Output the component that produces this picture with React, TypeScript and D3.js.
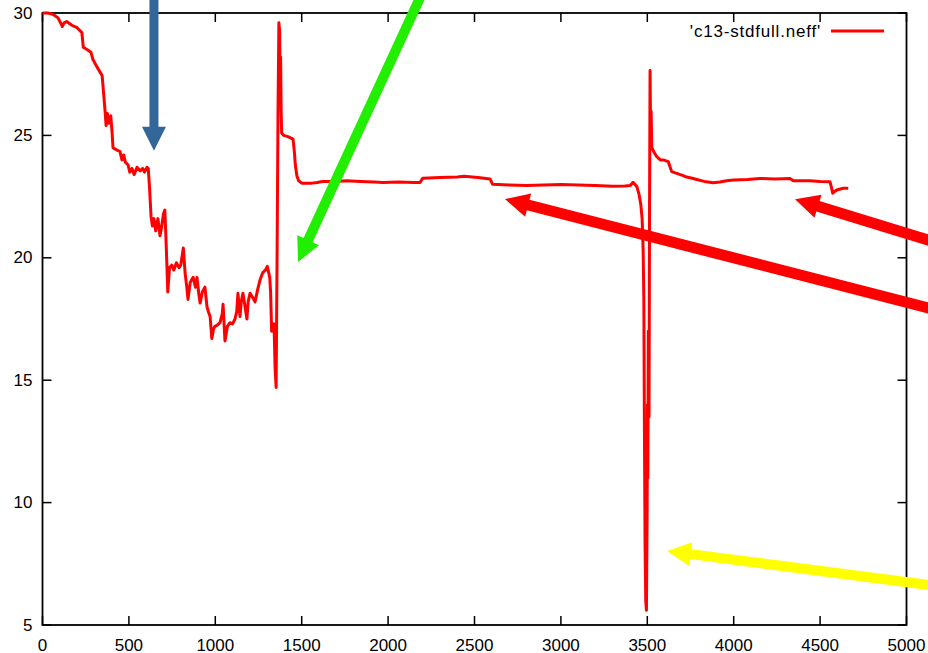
import React from "react";
import * as d3 from "d3";

const X_TICKS = [0, 500, 1000, 1500, 2000, 2500, 3000, 3500, 4000, 4500, 5000];
const Y_TICKS = [5, 10, 15, 20, 25, 30];
const SERIES_NAME = "'c13-stdfull.neff'";

const neffX = [
  0, 30, 60, 90, 115, 125, 140, 170, 200, 228, 236, 260, 280, 292, 315, 345, 355, 362, 368, 375,
  385, 395, 402, 408, 430, 448, 460, 470, 480, 495, 505, 518, 530, 547, 565, 580, 590, 605, 612, 620,
  628, 636, 645, 655, 668, 680, 690, 700, 708, 716, 725, 735, 748, 760, 775, 790, 800, 815, 825, 835,
  842, 855, 872, 885, 894, 905, 912, 925, 940, 952, 960, 970, 980, 990, 998, 1012, 1027, 1040, 1045, 1056,
  1070, 1085, 1100, 1114, 1124, 1131, 1143, 1150, 1160, 1170, 1183, 1190, 1201, 1215, 1230, 1245, 1259, 1275, 1290, 1301,
  1315, 1320, 1326, 1332, 1340, 1346, 1352, 1358, 1363, 1368, 1372, 1375, 1378, 1381, 1384, 1395, 1420, 1450, 1458, 1463,
  1472, 1482, 1500, 1560, 1590, 1620, 1700, 1760, 1840, 1920, 1970, 2060, 2150, 2185, 2200, 2300, 2400, 2440, 2520, 2590,
  2605, 2700, 2800, 2900, 3000, 3100, 3200, 3300, 3370, 3400, 3418, 3428, 3440, 3452, 3462, 3470, 3476, 3480, 3483, 3487,
  3491, 3495, 3499, 3501, 3503, 3506, 3510, 3513, 3516, 3519, 3522, 3526, 3540, 3555, 3575, 3593, 3621, 3630, 3641, 3670,
  3700, 3728, 3760, 3786, 3830, 3882, 3920, 3959, 4000, 4080, 4152, 4240, 4326, 4345, 4441, 4500, 4557, 4565, 4573, 4596,
  4634, 4663,
];
const neffY = [
  30.0, 30.0, 29.95, 29.8, 29.45, 29.6, 29.65, 29.5, 29.4, 29.2, 28.6, 28.5, 28.4, 28.1, 27.8, 27.45, 26.6, 26.0, 25.4, 25.9,
  25.5, 25.8, 25.2, 24.5, 24.4, 24.35, 24.0, 24.2, 23.9, 23.8, 23.5, 23.65, 23.4, 23.7, 23.55, 23.65, 23.5, 23.7, 23.65, 22.8,
  21.7, 21.3, 21.6, 21.1, 21.6, 20.9, 21.3, 21.8, 21.95, 20.5, 18.6, 19.6, 19.7, 19.5, 19.8, 19.6, 19.7, 20.4, 19.4, 18.8,
  18.3, 19.0, 19.2, 18.8, 19.2, 18.5, 18.15, 18.6, 18.8, 18.0, 17.8, 17.6, 16.7, 17.1, 17.2, 17.25, 17.35, 17.7, 18.1, 16.6,
  17.2, 17.35, 17.3, 17.5, 17.8, 18.55, 17.6, 18.2, 18.55, 18.1, 17.5, 18.2, 18.55, 18.4, 18.2, 18.7, 19.1, 19.4, 19.5, 19.65,
  19.2, 18.6, 17.0, 17.05, 17.3, 15.5, 14.7, 20.5, 26.0, 29.6, 29.3, 27.2, 28.2, 26.0, 25.1, 25.0, 24.95, 24.85, 24.3, 23.8,
  23.35, 23.15, 23.05, 23.05, 23.08, 23.12, 23.12, 23.15, 23.12, 23.1, 23.08, 23.1, 23.08, 23.08, 23.25, 23.28, 23.3, 23.33, 23.28, 23.22,
  23.0, 22.97, 22.95, 22.97, 22.99, 22.97, 22.95, 22.92, 22.93, 22.95, 23.08, 23.0, 22.9, 22.6, 22.2, 21.6, 20.3, 18.3, 13.5, 8.3,
  6.0, 5.6, 9.5, 14.0, 11.0, 17.0, 13.5, 22.0, 27.65, 25.2, 26.0, 24.5, 24.3, 24.13, 24.0, 24.0, 23.93, 23.75, 23.52, 23.45,
  23.38, 23.3, 23.25, 23.2, 23.12, 23.07, 23.1, 23.15, 23.18, 23.2, 23.24, 23.22, 23.24, 23.15, 23.15, 23.12, 23.11, 22.9, 22.64, 22.77,
  22.84, 22.84,
];

// Annotation arrows (in data coordinates): start -> tip
const arrowColors = ["#336699", "#22ee00", "#ff0000", "#ff0000", "#ffff00"];
const arrowStartX = [645, 2227, 5310, 5310, 5310];
const arrowStartY = [31.5, 31.27, 20.32, 17.62, 6.47];
const arrowTipX = [645, 1479, 4355, 2676, 3614];
const arrowTipY = [24.37, 19.83, 22.39, 22.4, 8.02];
const arrowShaft = [9, 10, 11, 11, 10];

const W = 928;
const H = 653;
const M = { left: 42.5, right: 906.5, top: 13, bottom: 625 };
const FONT = "'Liberation Sans', Arial, Helvetica, sans-serif";

function arrowPoints(x0: number, y0: number, x1: number, y1: number, w: number, hl: number, hh: number) {
  const dx = x1 - x0, dy = y1 - y0;
  const len = Math.hypot(dx, dy);
  const ux = dx / len, uy = dy / len;
  const nx = -uy, ny = ux;
  const bx = x1 - ux * hl, by = y1 - uy * hl;
  const pts = [
    [x0 + nx * w / 2, y0 + ny * w / 2],
    [bx + nx * w / 2, by + ny * w / 2],
    [bx + nx * hh, by + ny * hh],
    [x1, y1],
    [bx - nx * hh, by - ny * hh],
    [bx - nx * w / 2, by - ny * w / 2],
    [x0 - nx * w / 2, y0 - ny * w / 2],
  ];
  return pts.map((p) => p.join(",")).join(" ");
}

export default function App() {
  const x = d3.scaleLinear().domain([0, 5000]).range([M.left, M.right]);
  const y = d3.scaleLinear().domain([5, 30]).range([M.bottom, M.top]);
  const pts: [number, number][] = neffX.map((v, i) => [v, neffY[i]]);
  const line = d3
    .line<[number, number]>()
    .x((d) => x(d[0]))
    .y((d) => y(d[1]));
  const tl = 9;
  return (
    <svg
      width={W}
      height={H}
      style={{ position: "absolute", left: 0, top: 0, background: "#fff" }}
      fontFamily={FONT}
    >
      <rect x={0} y={0} width={W} height={H} fill="#fff" />
      {/* ticks */}
      {X_TICKS.map((t) => (
        <g key={"xt" + t} stroke="#000" strokeWidth={1.5}>
          <line x1={x(t)} x2={x(t)} y1={M.bottom} y2={M.bottom - tl} />
          <line x1={x(t)} x2={x(t)} y1={M.top} y2={M.top + tl} />
        </g>
      ))}
      {Y_TICKS.map((t) => (
        <g key={"yt" + t} stroke="#000" strokeWidth={1.5}>
          <line x1={M.left} x2={M.left + tl} y1={y(t)} y2={y(t)} />
          <line x1={M.right} x2={M.right - tl} y1={y(t)} y2={y(t)} />
        </g>
      ))}
      <rect
        x={M.left}
        y={M.top}
        width={M.right - M.left}
        height={M.bottom - M.top}
        fill="none"
        stroke="#000"
        strokeWidth={1.8}
      />
      {X_TICKS.map((t) => (
        <text key={"xl" + t} x={x(t)} y={M.bottom + 20} textAnchor="middle" dominantBaseline="central" fontSize={17} fill="#000">
          {t}
        </text>
      ))}
      {Y_TICKS.map((t) => (
        <text key={"yl" + t} x={32.5} y={y(t)} textAnchor="end" dominantBaseline="central" fontSize={17} fill="#000">
          {t}
        </text>
      ))}
      <path d={line(pts) || ""} fill="none" stroke="#ff0000" strokeWidth={3} strokeLinejoin="round" />
      {/* legend */}
      <text x={821} y={31} textAnchor="end" dominantBaseline="central" fontSize={17} letterSpacing={0.8} fill="#000">
        {SERIES_NAME}
      </text>
      <line x1={831} x2={884} y1={31} y2={31} stroke="#ff0000" strokeWidth={3} />
      {/* annotation arrows */}
      {arrowColors.map((c, i) => (
        <polygon
          key={"ar" + i}
          fill={c}
          points={arrowPoints(
            x(arrowStartX[i]),
            y(arrowStartY[i]),
            x(arrowTipX[i]),
            y(arrowTipY[i]),
            arrowShaft[i],
            24,
            12
          )}
        />
      ))}
    </svg>
  );
}
